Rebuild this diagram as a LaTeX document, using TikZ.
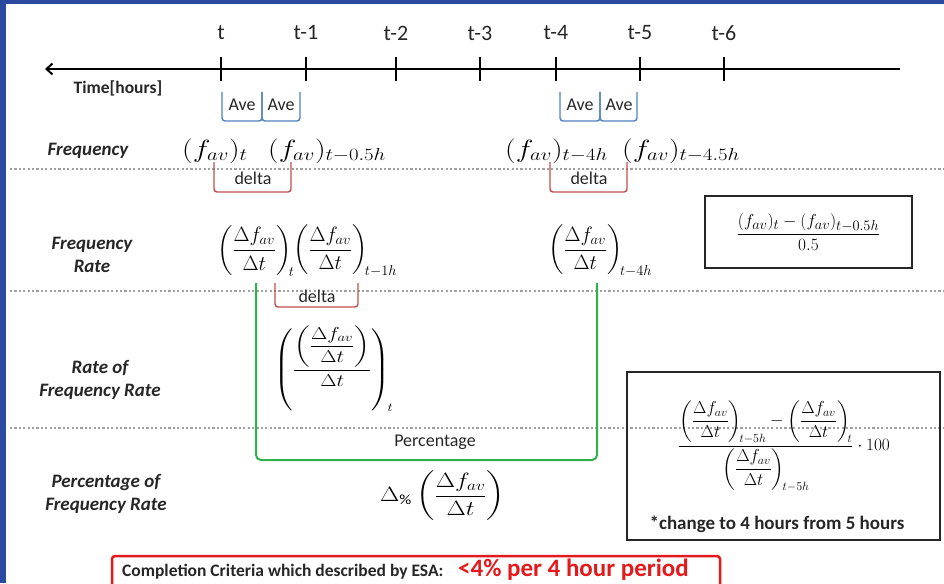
\documentclass[tikz,border=0pt]{standalone}
\usepackage{amsmath}
\usepackage{graphicx}
\usepackage{fontspec}
\setmainfont{Carlito}
\usetikzlibrary{arrows.meta}
\definecolor{frameblue}{HTML}{2B4AA0}
\definecolor{aveblue}{HTML}{4F81BD}
\definecolor{deltared}{HTML}{C0504D}
\definecolor{pctgreen}{HTML}{2DB34A}
\definecolor{critred}{HTML}{E3191C}
\definecolor{dotgray}{HTML}{A0A0A0}
\newcommand{\wide}[2][1.2]{\scalebox{#1}[1]{#2}}
\begin{document}
\begin{tikzpicture}[x=1pt,y=-1pt,
  tick/.style={line width=1.8pt},
  ticklabel/.style={font=\fontsize{22}{24}\selectfont, text=black!85},
  rowlabel/.style={font=\bfseries\itshape\fontsize{19}{23}\selectfont, align=center, text=black!85},
  avebr/.style={draw=aveblue, line width=1.4pt, rounded corners=3pt},
  deltabr/.style={draw=deltared, line width=1.4pt, rounded corners=3pt},
  brtext/.style={font=\fontsize{18}{20}\selectfont, text=black!85, inner sep=0pt},
  sep/.style={draw=dotgray, line width=2.2pt, dash pattern=on 2.2pt off 2.2pt},
  formbox/.style={draw=black!85, line width=2pt}
]
\useasboundingbox (0,0) rectangle (944,583);
% frame
\fill[frameblue] (0,0) rectangle (6,583);
\fill[frameblue] (0,0) rectangle (944,4);
% timeline
\coordinate (tlR) at (900,69);
\coordinate (tlL) at (45,69);
\draw[line width=2pt, -{Straight Barb[length=6pt,width=11pt]}] (tlR) -- (tlL);
\foreach \x/\l/\n in {221/t/0,306/t-1/1,396/t-2/2,480/t-3/3,556/t-4/4,640/t-5/5,724/t-6/6}{
  \draw[tick] (\x,57) -- (\x,81);
  \node[ticklabel] (tl\n) at (\x,33) {\l};
}
\node[font=\bfseries\fontsize{17.5}{20}\selectfont, text=black!85] (timelab) at (118,88) {Time[hours]};
% Ave brackets
\draw[avebr] (222,92) -- (222,121) -- (262,121) -- (262,92);
\draw[avebr] (262,92) -- (262,121) -- (300,121) -- (300,92);
\node[brtext] (ave1) at (242,105) {Ave};
\node[brtext] (ave2) at (281,105) {Ave};
\draw[avebr] (560,92) -- (560,121) -- (600,121) -- (600,92);
\draw[avebr] (600,92) -- (600,121) -- (637,121) -- (637,92);
\node[brtext] (ave3) at (580,105) {Ave};
\node[brtext] (ave4) at (619,105) {Ave};
% row labels
\node[rowlabel] (lab1) at (88,151) {Frequency};
\node[rowlabel] (lab2) at (92,255) {Frequency\\Rate};
\node[rowlabel] (lab3) at (100,380) {Rate of\\Frequency Rate};
\node[rowlabel] (lab4) at (106,494) {Percentage of\\Frequency Rate};
% separators
\draw[sep] (10,169) -- (944,169);
\draw[sep] (10,291) -- (944,291);
\draw[sep] (10,428) -- (944,428);
% frequency row
\begin{scope}[every node/.style={font=\fontsize{24}{26}\selectfont, inner sep=0pt, anchor=base west}]
\node (f1) at (182,157) {\wide{$(f_{av})_t$}};
\node (f2) at (268,157) {\wide{$(f_{av})_{t-0.5h}$}};
\node (f3) at (505,157) {\wide{$(f_{av})_{t-4h}$}};
\node (f4) at (622,157) {\wide{$(f_{av})_{t-4.5h}$}};
\end{scope}
% delta brackets
\draw[deltabr] (214,162) -- (214,192) -- (291,192) -- (291,162);
\node[brtext] (d1) at (253,178) {delta};
\draw[deltabr] (550,162) -- (550,192) -- (627,192) -- (627,162);
\node[brtext] (d2) at (589,178) {delta};
% frequency rate row
\begin{scope}[every node/.style={font=\fontsize{22}{24}\selectfont, inner sep=0pt, anchor=west}]
\node (r1) at (217,251) {$\left(\dfrac{\Delta f_{av}}{\Delta t}\right)_{\!t}$};
\node (r2) at (293,251) {$\left(\dfrac{\Delta f_{av}}{\Delta t}\right)_{\!t-1h}$};
\node (r3) at (548,251) {$\left(\dfrac{\Delta f_{av}}{\Delta t}\right)_{\!t-4h}$};
\end{scope}
% box 1
\node[formbox, minimum width=207pt, minimum height=72pt, font=\fontsize{19}{21}\selectfont] (box1) at (808.5,232)
  {$\dfrac{(f_{av})_t-(f_{av})_{t-0.5h}}{0.5}$};
% delta bracket 3
\draw[deltabr] (275,283) -- (275,307) -- (358,307) -- (358,283);
\node[brtext] (d3) at (317,296) {delta};
% green bracket
\draw[draw=pctgreen, line width=2pt, rounded corners=5pt] (256,283) -- (256,460) -- (597,460) -- (597,283);
\node[brtext] (pct) at (435,442) {Percentage};
% rate of frequency rate
\node[font=\fontsize{18}{20}\selectfont, inner sep=0pt, anchor=west] (rr) at (274,369)
  {\wide[1.22]{$\left(\dfrac{\left(\dfrac{\Delta f_{av}}{\Delta t}\right)}{\Delta t}\right)_{\!t}$}};
% percentage
\node[font=\fontsize{20}{22}\selectfont, inner sep=0pt, anchor=west] (pp) at (380,496)
  {\wide{$\Delta_{\%}\left(\dfrac{\Delta f_{av}}{\Delta t}\right)$}};
% box 2
\draw[formbox] (627,372) rectangle (940,540);
\node[font=\fontsize{17.5}{19}\selectfont, inner sep=0pt] (form2) at (784,446)
  {$\dfrac{\left(\dfrac{\Delta f_{av}}{\Delta t}\right)_{\!t-5h}-\left(\dfrac{\Delta f_{av}}{\Delta t}\right)_{\!t}}{\left(\dfrac{\Delta f_{av}}{\Delta t}\right)_{\!t-5h}}\cdot 100$};
\node[font=\bfseries\fontsize{19}{21}\selectfont, text=black!85, inner sep=0pt] (note) at (777,524) {*change to 4 hours from 5 hours};
% criteria box
\draw[draw=critred, line width=2.5pt, rounded corners=3pt] (112,556) rectangle (720,590);
\node[anchor=west, font=\bfseries\fontsize{17.5}{19}\selectfont, text=black!85, inner sep=0pt] (crit) at (122,572) {Completion Criteria which described by ESA:};
\node[anchor=west, font=\bfseries\fontsize{25}{27}\selectfont, text=critred, inner sep=0pt] (critv) at (458,570) {{<}4\% per 4 hour period};
\end{tikzpicture}
\end{document}
